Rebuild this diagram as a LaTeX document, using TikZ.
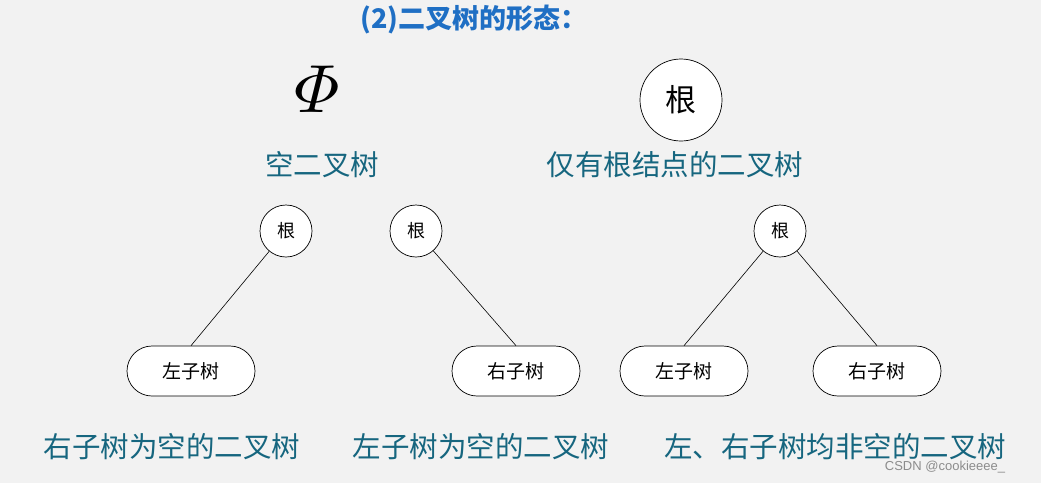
\documentclass[tikz,border=0pt]{standalone}
\usepackage{amsmath}
\usepackage{fontspec}
\newfontfamily\cjk{Noto Sans CJK SC}
\setsansfont{Liberation Sans}
\definecolor{bg}{HTML}{F2F2F2}
\definecolor{titleblue}{HTML}{1F6FC4}
\definecolor{labteal}{HTML}{16667F}
\definecolor{wm}{HTML}{8C8C8C}
\begin{document}
\begin{tikzpicture}[x=1pt,y=-1pt,
  rootsm/.style={circle,draw=black,line width=0.7pt,fill=white,minimum size=52pt,inner sep=0pt,font=\cjk\fontsize{18}{20}\selectfont},
  rootbig/.style={circle,draw=black,line width=0.7pt,fill=white,minimum size=82pt,inner sep=0pt,font=\cjk\fontsize{31}{33}\selectfont},
  subtree/.style={rectangle,rounded corners=25pt,draw=black,line width=0.7pt,fill=white,minimum width=128pt,minimum height=50pt,inner sep=0pt,font=\cjk\fontsize{19}{21}\selectfont},
  caption/.style={text=labteal,font=\cjk\fontsize{28.5}{30}\selectfont,inner sep=0pt},
  edge/.style={draw=black,line width=0.6pt}]
\fill[bg] (0,0) rectangle (1041,483);
\useasboundingbox (0,0) rectangle (1041,483);
% title
\node[text=titleblue,font=\cjk\bfseries\fontsize{27}{29}\selectfont,inner sep=0pt] (title) at (474,20) {(2)二叉树的形态：};
% empty tree
\node[inner sep=0pt,scale=6.8,font=\normalsize] (phi) at (317,89) {$\varPhi$};
\node[caption] (c1) at (322,165) {空二叉树};
% only root
\node[rootbig] (rb) at (681,100) {根};
\node[caption] (c2) at (675,165) {仅有根结点的二叉树};
% tree 1
\node[rootsm] (r1) at (286,231) {根};
\node[subtree] (l1) at (191,371) {左子树};
\draw[edge] (r1) -- (l1.north);
\node[caption] (c3) at (172,447) {右子树为空的二叉树};
% tree 2
\node[rootsm] (r2) at (416,231) {根};
\node[subtree] (s2) at (516,371) {右子树};
\draw[edge] (r2) -- (s2.north);
\node[caption] (c4) at (481,447) {左子树为空的二叉树};
% tree 3
\node[rootsm] (r3) at (780,231) {根};
\node[subtree] (l3) at (684,371) {左子树};
\node[subtree] (s3) at (877,371) {右子树};
\draw[edge] (r3) -- (l3.north);
\draw[edge] (r3) -- (s3.north);
\node[caption] (c5) at (835,447) {左、右子树均非空的二叉树};
% watermark
\node[text=wm,font=\sffamily\fontsize{13}{15}\selectfont,inner sep=0pt] (wmk) at (945,467) {CSDN @cookieeee\_};
\end{tikzpicture}
\end{document}
